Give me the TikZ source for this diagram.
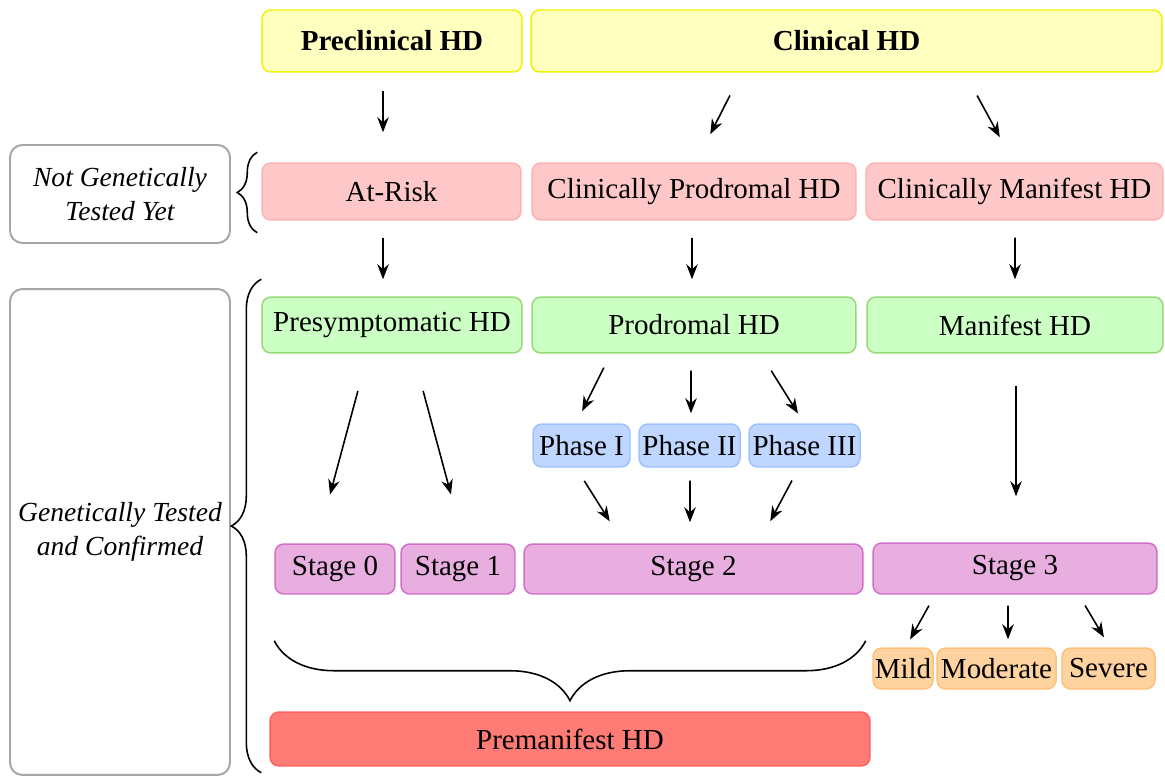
\documentclass[tikz,border=0pt]{standalone}
\usepackage{fontspec}
\setmainfont{Liberation Serif}
\usepackage{xcolor}
\usetikzlibrary{positioning,arrows.meta,calc,decorations.pathreplacing}

\definecolor{yelfill}{HTML}{FFFFC0}
\definecolor{yelline}{HTML}{F2F200}
\definecolor{pinkfill}{HTML}{FFC8C8}
\definecolor{pinkline}{HTML}{FFB0B0}
\definecolor{grnfill}{HTML}{CCFFC4}
\definecolor{grnline}{HTML}{98D878}
\definecolor{blufill}{HTML}{BFD6FF}
\definecolor{bluline}{HTML}{9EC2FF}
\definecolor{magfill}{HTML}{E8AEE0}
\definecolor{magline}{HTML}{D070C8}
\definecolor{orgfill}{HTML}{FFD3A0}
\definecolor{orgline}{HTML}{FFC07A}
\definecolor{redfill}{HTML}{FF7B75}
\definecolor{redline}{HTML}{FF6060}

\begin{document}
\begin{tikzpicture}[x=0.02cm, y=-0.02cm,
  caja/.style={draw, rounded corners=5pt, inner sep=0pt, align=center, line width=0.85pt,
    font=\fontsize{16.5}{19}\selectfont},
  amarilla/.style={caja, fill=yelfill, draw=yelline, font=\fontsize{16.5}{19}\selectfont\bfseries},
  rosa/.style={caja, fill=pinkfill, draw=pinkline},
  verde/.style={caja, fill=grnfill, draw=grnline},
  azul/.style={caja, fill=blufill, draw=bluline},
  morada/.style={caja, fill=magfill, draw=magline},
  naranja/.style={caja, fill=orgfill, draw=orgline},
  roja/.style={caja, fill=redfill, draw=redline},
  lateral/.style={draw=gray!70, fill=white, rounded corners=7pt, line width=1.1pt, inner sep=0pt,
    align=center, font=\fontsize{15.7}{19}\selectfont\itshape},
  flecha/.style={-{Stealth[length=3mm, width=2.3mm]}, line width=0.9pt},
  llave/.style={decorate, line width=0.9pt}]
\useasboundingbox (0,0) rectangle (1165,776);

% cabecera
\node[amarilla, minimum width=5.2cm, minimum height=1.24cm] (precl) at (392,41) {Preclinical HD};
\node[amarilla, minimum width=12.62cm, minimum height=1.24cm] (clin) at (846.5,41) {Clinical HD};

% sin test genetico
\node[lateral, minimum width=4.4cm, minimum height=1.96cm] (notest) at (120,194) {Not Genetically\\Tested Yet};
\node[rosa, minimum width=5.18cm, minimum height=1.14cm] (atrisk) at (391.5,191.5) {At-Risk};
\node[rosa, minimum width=6.48cm, minimum height=1.14cm] (cprod) at (694,191.5) {Clinically Prodromal HD};
\node[rosa, minimum width=5.94cm, minimum height=1.14cm] (cman) at (1014.5,191.5) {Clinically Manifest HD};

% con test genetico
\node[lateral, minimum width=4.4cm, minimum height=9.72cm] (tested) at (120,532) {Genetically Tested\\and Confirmed};
\node[verde, minimum width=5.2cm, minimum height=1.12cm] (presym) at (392,325) {Presymptomatic HD};
\node[verde, minimum width=6.48cm, minimum height=1.12cm] (prod) at (694,325) {Prodromal HD};
\node[verde, minimum width=5.92cm, minimum height=1.12cm] (manif) at (1015,325) {Manifest HD};

\node[azul, minimum width=1.94cm, minimum height=0.86cm] (ph1) at (581.5,445.5) {Phase I};
\node[azul, minimum width=2.02cm, minimum height=0.86cm] (ph2) at (689.5,445.5) {Phase II};
\node[azul, minimum width=2.22cm, minimum height=0.86cm] (ph3) at (804.5,445.5) {Phase III};

\node[morada, minimum width=2.4cm, minimum height=1cm] (st0) at (335,569) {Stage 0};
\node[morada, minimum width=2.28cm, minimum height=1cm] (st1) at (458,569) {Stage 1};
\node[morada, minimum width=6.78cm, minimum height=1cm] (st2) at (693.5,569) {Stage 2};
\node[morada, minimum width=5.68cm, minimum height=1.02cm] (st3) at (1015,568.5) {Stage 3};

\node[naranja, minimum width=1.2cm, minimum height=0.82cm] (mild) at (903,668.5) {Mild};
\node[naranja, minimum width=2.38cm, minimum height=0.82cm] (moder) at (996.5,668.5) {Moderate};
\node[naranja, minimum width=1.86cm, minimum height=0.82cm] (sever) at (1108.5,668.5) {Severe};

\node[roja, minimum width=12cm, minimum height=1.08cm] (preman) at (570,739) {Premanifest HD};

% flechas: origen/desplaz./destino/desplaz./recorte inicio/recorte final
\foreach \a/\ax/\b/\bx/\sa/\sb in {
  precl/-9/atrisk/-8.5/0.36/0.6, clin/-105/cprod/2/0.51/0.63, clin/118.2/cman/-1.1/0.52/0.57,
  atrisk/-8.5/presym/-9/0.34/0.34, cprod/-2/prod/-2/0.34/0.34, cman/0.5/manif/0/0.34/0.34,
  presym/-24.1/st0/-18.1/0.77/1.01, presym/21.1/st1/6.1/0.77/1.01,
  prod/-83.2/ph1/-5.4/0.31/0.27, prod/-3/ph2/1.5/0.34/0.2, prod/66.6/ph3/-0.4/0.4/0.23,
  ph1/-5.5/st2/-69.9/0.31/0.52, ph2/0.5/st2/-3.5/0.26/0.42, ph3/-5.7/st2/65/0.29/0.5,
  manif/1/st3/1/0.64/0.92,
  st3/-80/mild/2.7/0.25/0.18, st3/-7/moder/11.5/0.22/0.16, st3/63.7/sever/1.3/0.25/0.23}
  \draw[flecha, shorten <=\sa cm, shorten >=\sb cm] ($(\a.south)+(\ax,0)$) -- ($(\b.north)+(\bx,0)$);

% llaves
\draw[llave, decoration={brace, amplitude=0.4cm}]
  ($(atrisk.south west)+(-4,12)$) -- ($(atrisk.north west)+(-4,-10)$);
\draw[llave, decoration={brace, amplitude=0.6cm}]
  ($(preman.south west)+(-8,6)$) -- ($(presym.north west)+(0,-17)$);
\draw[llave, decoration={brace, amplitude=1.2cm}]
  ($(st2.south east)+(2,46)$) -- ($(st0.south west)+(0,46)$);
\end{tikzpicture}
\end{document}
